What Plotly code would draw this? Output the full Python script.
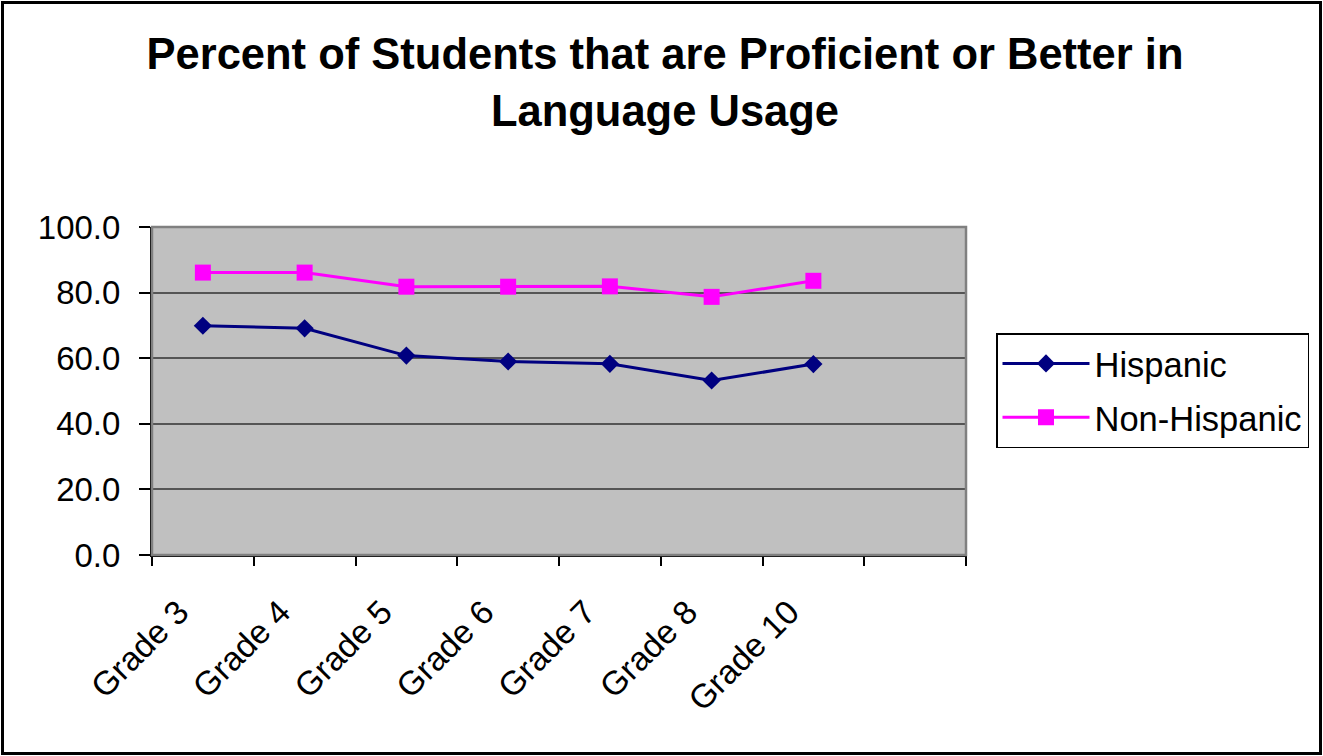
import plotly.graph_objects as go

# Grades tested and the share of students at proficient or above
grades = ["Grade 3", "Grade 4", "Grade 5", "Grade 6", "Grade 7", "Grade 8", "Grade 10"]
hispanic = [69.9, 69.1, 60.8, 59.0, 58.3, 53.2, 58.2]
non_hispanic = [86.1, 86.1, 81.8, 81.8, 81.9, 78.7, 83.6]
y_ticks = [0, 20, 40, 60, 80, 100]

W, H = 1323, 756
L, R, T, B = 152, 966, 227, 555
FONT = "Liberation Sans, Arial, sans-serif"

x_pos = list(range(len(grades)))
n_slots = len(grades) + 1  # one empty slot at the right end of the category axis
x_range = [-0.5, n_slots - 0.5]
boundaries = [i - 0.5 for i in range(n_slots + 1)]

fig = go.Figure()
fig.add_trace(go.Scatter(
    x=x_pos, y=hispanic, name="Hispanic", mode="lines+markers",
    line=dict(color="#000080", width=3),
    marker=dict(symbol="diamond", size=14, color="#000080"),
    legendgroup="a",
))
fig.add_trace(go.Scatter(
    x=x_pos, y=non_hispanic, name="Non-Hispanic", mode="lines+markers",
    line=dict(color="#FF00FF", width=3),
    marker=dict(symbol="square", size=16, color="#FF00FF"),
    legendgroup="b", xaxis="x2",
))


def px_x(p):
    return (p - L) / (R - L)


def px_y(p):
    return (B - p) / (B - T)


fig.update_layout(
    width=W, height=H, autosize=False,
    margin=dict(l=L, r=W - R, t=T, b=H - B, pad=0),
    paper_bgcolor="white",
    plot_bgcolor="#C0C0C0",
    font=dict(family=FONT, color="black", size=33),
    title=dict(
        text="<b>Percent of Students that are Proficient or Better in<br>Language Usage</b>",
        font=dict(family=FONT, size=43.5, color="black"),
        x=665 / W, xanchor="center",
        y=1 - 69 / H, yanchor="top", yref="container",
    ),
    xaxis=dict(
        range=x_range, tickmode="array", tickvals=x_pos, ticktext=grades,
        tickangle=-45, ticks="", showgrid=False, zeroline=False,
        ticklabelshift=-24, ticklabelstandoff=22,
        showline=True, linecolor="black", linewidth=2,
        tickfont=dict(family=FONT, size=33.5, color="black"),
        fixedrange=True,
    ),
    xaxis2=dict(
        range=x_range, overlaying="x", side="bottom",
        tickmode="array", tickvals=boundaries, showticklabels=False,
        ticks="outside", ticklen=10, tickwidth=1.5, tickcolor="black",
        showgrid=False, zeroline=False, showline=False,
        fixedrange=True,
    ),
    yaxis=dict(
        range=[0, 100], tickmode="array", tickvals=y_ticks,
        ticktext=[f"{v:.1f}" for v in y_ticks],
        ticks="outside", ticklen=11, tickwidth=1.5, tickcolor="black",
        ticklabelstandoff=12,
        showgrid=True, gridcolor="#555555", gridwidth=2,
        zeroline=False, showline=True, linecolor="black", linewidth=2,
        tickfont=dict(family=FONT, size=33, color="black"),
        fixedrange=True,
    ),
    legend=dict(
        x=px_x(996), y=px_y(333), xanchor="left", yanchor="top",
        bordercolor="black", borderwidth=1.5, bgcolor="white",
        font=dict(family=FONT, size=34.5, color="black"),
        traceorder="grouped", tracegroupgap=6,
        itemwidth=87,
    ),
    showlegend=True,
    shapes=[
        # light frame around the plotting area
        dict(type="rect", xref="paper", yref="paper", x0=0, x1=1, y0=0, y1=1,
             line=dict(color="#808080", width=2.5), layer="above"),
        # outer border of the whole chart
        dict(type="rect", xref="paper", yref="paper",
             x0=px_x(2.5), x1=px_x(1320.5), y0=px_y(753.5), y1=px_y(2.5),
             line=dict(color="black", width=3), layer="above"),
    ],
)

fig.write_html("out.html", config=dict(displayModeBar=False))
